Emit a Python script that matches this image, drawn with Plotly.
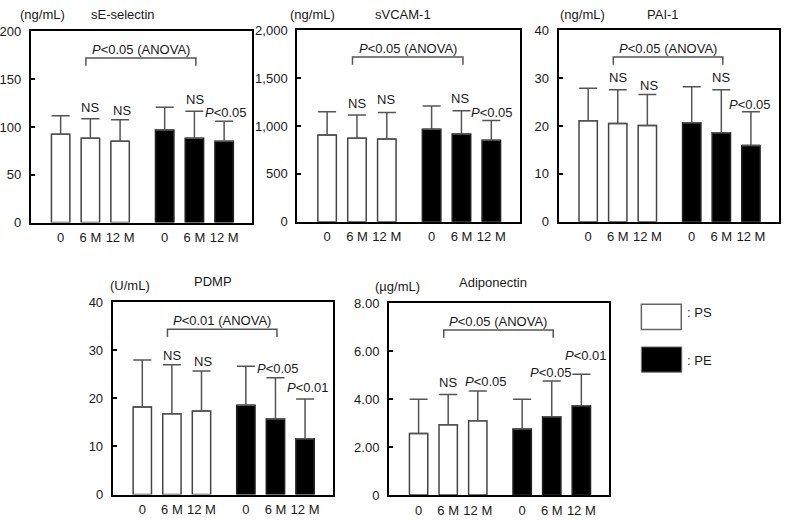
import plotly.graph_objects as go

# ---------------- data ----------------
categories = ["0", "6 M", "12 M"]
series_names = ["PS", "PE"]

panel_titles = ["sE-selectin", "sVCAM-1", "PAI-1", "PDMP", "Adiponectin"]
panel_units = ["(ng/mL)", "(ng/mL)", "(ng/mL)", "(U/mL)", "(\u00b5g/mL)"]

sesel_ps_mean = [92.4, 88.3, 85.0]
sesel_ps_sd = [19.3, 20.3, 22.6]
sesel_pe_mean = [96.8, 88.3, 85.0]
sesel_pe_sd = [23.7, 28.1, 20.9]

svcam_ps_mean = [906, 873, 863]
svcam_ps_sd = [244, 241, 277]
svcam_pe_mean = [967, 917, 850]
svcam_pe_sd = [241, 243, 206]

pai_ps_mean = [21.1, 20.5, 20.1]
pai_ps_sd = [6.8, 7.1, 6.5]
pai_pe_mean = [20.7, 18.6, 15.9]
pai_pe_sd = [7.5, 9.0, 7.1]

pdmp_ps_mean = [18.2, 16.8, 17.4]
pdmp_ps_sd = [9.8, 10.2, 8.3]
pdmp_pe_mean = [18.6, 15.7, 11.6]
pdmp_pe_sd = [8.1, 8.6, 8.3]

adipo_ps_mean = [2.57, 2.93, 3.10]
adipo_ps_sd = [1.43, 1.26, 1.24]
adipo_pe_mean = [2.76, 3.27, 3.73]
adipo_pe_sd = [1.24, 1.49, 1.31]

P05 = "<i>P</i>&lt;0.05"
P01 = "<i>P</i>&lt;0.01"
sig_ps = [["", "NS", "NS"], ["", "NS", "NS"], ["", "NS", "NS"],
          ["", "NS", "NS"], ["", "NS", P05]]
sig_pe = [["", "NS", P05], ["", "NS", P05], ["", "NS", P05],
          ["", P05, P01], ["", P05, P01]]
anova_text = [P05 + " (ANOVA)", P05 + " (ANOVA)", P05 + " (ANOVA)",
              P01 + " (ANOVA)", P05 + " (ANOVA)"]

y_ticks = [[0, 50, 100, 150, 200],
           [0, 500, 1000, 1500, 2000],
           [0, 10, 20, 30, 40],
           [0, 10, 20, 30, 40],
           [0, 2, 4, 6, 8]]
y_ticktext = [["0", "50", "100", "150", "200"],
              ["0", "500", "1,000", "1,500", "2,000"],
              ["0", "10", "20", "30", "40"],
              ["0", "10", "20", "30", "40"],
              ["0", "2.00", "4.00", "6.00", "8.00"]]

means_ps = [sesel_ps_mean, svcam_ps_mean, pai_ps_mean, pdmp_ps_mean, adipo_ps_mean]
sds_ps = [sesel_ps_sd, svcam_ps_sd, pai_ps_sd, pdmp_ps_sd, adipo_ps_sd]
means_pe = [sesel_pe_mean, svcam_pe_mean, pai_pe_mean, pdmp_pe_mean, adipo_pe_mean]
sds_pe = [sesel_pe_sd, svcam_pe_sd, pai_pe_sd, pdmp_pe_sd, adipo_pe_sd]

# ---------------- layout (pixels) ----------------
W, H = 786, 522
boxes = [(29, 251, 25, 222), (296, 519, 24, 221), (558, 779, 24, 221),
         (111, 332, 304, 502), (388, 609, 305, 502.5)]
pos_ps = [1, 2, 3]
pos_pe = [4.5, 5.5, 6.5]
# per-label vertical gap (px) above error cap, and horizontal shift
shift_ps = [[0, 11, 9], [0, 12, 13], [0, 12, 9], [0, 9, 10], [0, 12, 9]]
shift_pe = [[0, 12, 9], [0, 12, 8], [0, 12, 7], [0, 9, 11], [0, 8, 19]]
xsh_ps = [[0, 0, 2], [0, 0, -1], [0, 0, 2], [0, 0, 2], [0, 0, 8]]
xsh_pe = [[0, 1, 2], [0, -1, 1], [0, 0, -1], [0, 3, 3], [0, -1, 5]]
unit_dx = [-13, -9, -1, -5, -16]
title_cx = [121, 402, 663, 212, 492]
title_y = [8, 8, 8, 283, 284]
unit_y = [8, 8, 8, 287, 288]

FONT = "Liberation Sans, Arial, Helvetica, sans-serif"
TXT = "#1a1a1a"
EDGE = "#444444"
ERR = "#555555"

fig = go.Figure()
annotations = []
shapes = []

for i in range(5):
    n = "" if i == 0 else str(i + 1)
    xa, ya = "x" + n, "y" + n
    x0, x1, yt, yb = boxes[i]
    fig.add_trace(go.Bar(
        x=pos_ps, y=means_ps[i], width=0.62, name=series_names[0],
        marker=dict(color="white", line=dict(color=EDGE, width=1.5)),
        error_y=dict(type="data", symmetric=False, array=sds_ps[i],
                     arrayminus=[0, 0, 0], color=ERR, thickness=1.5, width=9),
        xaxis=xa, yaxis=ya, showlegend=False))
    fig.add_trace(go.Bar(
        x=pos_pe, y=means_pe[i], width=0.62, name=series_names[1],
        marker=dict(color="black", line=dict(color="#222222", width=1.5)),
        error_y=dict(type="data", symmetric=False, array=sds_pe[i],
                     arrayminus=[0, 0, 0], color=ERR, thickness=1.5, width=9),
        xaxis=xa, yaxis=ya, showlegend=False))

    ymax = y_ticks[i][-1]
    axis_common = dict(showgrid=False, zeroline=False, showline=True,
                       linecolor="black", linewidth=2, mirror=True)
    fig.update_layout(**{
        ("xaxis" + n): dict(domain=[x0 / W, x1 / W], anchor=ya, range=[0, 7.45],
                            tickvals=pos_ps + pos_pe, ticktext=categories * 2,
                            ticks="", ticklabelstandoff=2,
                            tickfont=dict(size=13, color=TXT, family=FONT),
                            fixedrange=True, **axis_common),
        ("yaxis" + n): dict(domain=[1 - yb / H, 1 - yt / H], anchor=xa,
                            range=[0, ymax], tickvals=y_ticks[i],
                            ticktext=y_ticktext[i], ticks="inside", ticklen=4,
                            tickcolor="black", tickwidth=1.5,
                            ticklabelstandoff=5,
                            tickfont=dict(size=13, color=TXT, family=FONT),
                            fixedrange=True, **axis_common),
    })

    # significance labels
    for j in range(3):
        for lab, pos, mu, sd, dy, dx in (
                (sig_ps[i][j], pos_ps[j], means_ps[i][j], sds_ps[i][j], shift_ps[i][j], xsh_ps[i][j]),
                (sig_pe[i][j], pos_pe[j], means_pe[i][j], sds_pe[i][j], shift_pe[i][j], xsh_pe[i][j])):
            if lab:
                annotations.append(dict(
                    x=pos, y=mu + sd, xref=xa, yref=ya, text=lab,
                    showarrow=False, yanchor="middle", xanchor="center",
                    yshift=dy, xshift=dx,
                    font=dict(size=13, color=TXT, family=FONT)))

    # ANOVA bracket (bar 2 of PS to bar 2 of PE)
    bx0, bx1 = pos_ps[1] - 0.15, pos_pe[1] + 0.05
    shapes.append(dict(type="path", xref=xa, yref=ya + " domain",
                       path=f"M {bx0} 0.82 L {bx0} 0.86 L {bx1} 0.86 L {bx1} 0.82",
                       line=dict(color=ERR, width=1.5)))
    annotations.append(dict(x=(bx0 + bx1) / 2, y=0.905, xref=xa,
                            yref=ya + " domain", text=anova_text[i],
                            showarrow=False, yanchor="middle",
                            font=dict(size=13, color=TXT, family=FONT)))
    # unit + title
    annotations.append(dict(x=(x0 + unit_dx[i]) / W, y=1 - unit_y[i] / H,
                            xref="paper", yref="paper", text=panel_units[i],
                            xanchor="left", yanchor="middle", showarrow=False,
                            font=dict(size=13, color=TXT, family=FONT)))
    annotations.append(dict(x=title_cx[i] / W, y=1 - title_y[i] / H,
                            xref="paper", yref="paper", text=panel_titles[i],
                            xanchor="center", yanchor="middle", showarrow=False,
                            font=dict(size=13, color=TXT, family=FONT)))

# legend (drawn)
shapes.append(dict(type="rect", xref="paper", yref="paper",
                   x0=641 / W, x1=681 / W, y0=1 - 332 / H, y1=1 - 306 / H,
                   fillcolor="white", line=dict(color="#666666", width=1.5)))
shapes.append(dict(type="rect", xref="paper", yref="paper",
                   x0=641 / W, x1=681.5 / W, y0=1 - 376 / H, y1=1 - 350 / H,
                   fillcolor="black", line=dict(color="#777777", width=1)))
annotations.append(dict(x=685 / W, y=1 - 315 / H, xref="paper", yref="paper",
                        text=": " + series_names[0], xanchor="left",
                        yanchor="middle", showarrow=False,
                        font=dict(size=13, color=TXT, family=FONT)))
annotations.append(dict(x=685 / W, y=1 - 364 / H, xref="paper", yref="paper",
                        text=": " + series_names[1], xanchor="left",
                        yanchor="middle", showarrow=False,
                        font=dict(size=13, color=TXT, family=FONT)))

fig.update_layout(width=W, height=H, margin=dict(l=0, r=0, t=0, b=0),
                  paper_bgcolor="white", plot_bgcolor="white",
                  barmode="overlay", showlegend=False,
                  annotations=annotations, shapes=shapes,
                  font=dict(family=FONT, size=13, color=TXT))

fig.write_html("out.html", config={"displayModeBar": False},
               post_script="document.body.style.margin='0';"
                           "document.body.style.overflow='hidden';")
